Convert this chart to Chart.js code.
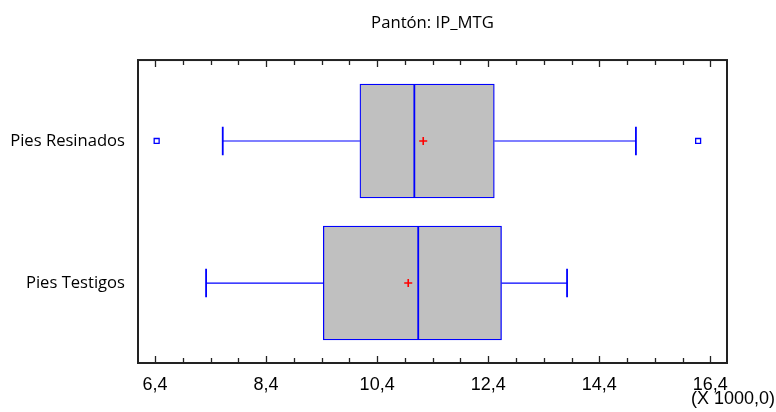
<!DOCTYPE html>
<html>
<head>
<meta charset="utf-8">
<script src="https://cdn.jsdelivr.net/npm/chart.js@4.4.0/dist/chart.umd.min.js"></script>
<style>
    html, body { margin: 0; padding: 0; background: #fff; }
    #wrap { width: 776px; height: 412px; }
</style>
</head>
<body>
<div id="wrap"><canvas id="boxChart"></canvas></div>
<script>
// Box plot data (values in X 1000,0)
const groups = ['Pies Resinados', 'Pies Testigos'];
const groupPos = [2, 1];
const whiskerLow = [7.62, 7.32];
const q1 = [10.09, 9.43];
const median = [11.07, 11.14];
const q3 = [12.51, 12.64];
const whiskerHigh = [15.06, 13.82];
const means = [11.23, 10.96];
const outliers = [
    { x: 6.43, y: 2 },
    { x: 16.18, y: 2 }
];
const xTicks = [6.4, 8.4, 10.4, 12.4, 14.4, 16.4];

const blue = '#0000ff';
const axisFont = '"Liberation Sans", Arial, sans-serif';

// whiskers, caps, medians, inner tick marks and frame
const boxPlotExtras = {
    id: 'boxPlotExtras',
    afterDatasetsDraw(chart) {
        const { ctx, chartArea: a, scales: { x, y } } = chart;
        ctx.save();
        ctx.strokeStyle = blue;
        groups.forEach((g, i) => {
            const cy = y.getPixelForValue(groupPos[i]);
            const capT = y.getPixelForValue(groupPos[i] + 0.1);
            const capB = y.getPixelForValue(groupPos[i] - 0.1);
            const boxT = y.getPixelForValue(groupPos[i] + 0.4);
            const boxB = y.getPixelForValue(groupPos[i] - 0.4);
            ctx.lineWidth = 1.2;
            ctx.beginPath();
            ctx.moveTo(x.getPixelForValue(whiskerLow[i]), cy);
            ctx.lineTo(x.getPixelForValue(q1[i]), cy);
            ctx.moveTo(x.getPixelForValue(q3[i]), cy);
            ctx.lineTo(x.getPixelForValue(whiskerHigh[i]), cy);
            ctx.stroke();
            ctx.lineWidth = 1.8;
            ctx.beginPath();
            ctx.moveTo(x.getPixelForValue(whiskerLow[i]), capT);
            ctx.lineTo(x.getPixelForValue(whiskerLow[i]), capB);
            ctx.moveTo(x.getPixelForValue(whiskerHigh[i]), capT);
            ctx.lineTo(x.getPixelForValue(whiskerHigh[i]), capB);
            ctx.moveTo(x.getPixelForValue(median[i]), boxT);
            ctx.lineTo(x.getPixelForValue(median[i]), boxB);
            ctx.stroke();
        });

        // inward ticks on top and bottom every 0.5
        ctx.strokeStyle = '#222';
        ctx.lineWidth = 1.3;
        ctx.beginPath();
        for (let k = 0; k <= 20; k++) {
            const v = xTicks[0] + k * 0.5;
            const px = Math.round(x.getPixelForValue(v)) + 0.5;
            const len = k % 4 === 0 ? 7 : 5;
            ctx.moveTo(px, a.top);
            ctx.lineTo(px, a.top + len);
            ctx.moveTo(px, a.bottom);
            ctx.lineTo(px, a.bottom - len);
        }
        ctx.stroke();

        ctx.lineWidth = 2;
        ctx.strokeRect(a.left, a.top, a.right - a.left, a.bottom - a.top);

        ctx.fillStyle = '#000';
        ctx.font = '18px ' + axisFont;
        ctx.textAlign = 'right';
        ctx.textBaseline = 'middle';
        ctx.fillText('(X 1000,0)', chart.width - 1, 399);
        ctx.restore();
    }
};

const ctx = document.getElementById('boxChart').getContext('2d');

new Chart(ctx, {
    data: {
        datasets: [
            {
                type: 'bar',
                label: 'Caja',
                data: groups.map((g, i) => ({ x: [q1[i], q3[i]], y: groupPos[i] })),
                backgroundColor: '#c0c0c0',
                borderColor: blue,
                borderWidth: 1.3,
                borderSkipped: false,
                barThickness: 114,
                order: 2
            },
            {
                type: 'scatter',
                label: 'Media',
                data: groups.map((g, i) => ({ x: means[i], y: groupPos[i] })),
                pointStyle: 'cross',
                radius: 4,
                borderColor: '#ff0000',
                borderWidth: 1.6,
                order: 1
            },
            {
                type: 'scatter',
                label: 'Atípicos',
                data: outliers,
                pointStyle: 'rect',
                radius: 3.5,
                backgroundColor: '#fff',
                borderColor: blue,
                borderWidth: 1.3,
                order: 1
            }
        ]
    },
    options: {
        indexAxis: 'y',
        responsive: true,
        maintainAspectRatio: false,
        animation: false,
        layout: { padding: { left: 0, right: 49, top: 0, bottom: 0 } },
        plugins: {
            legend: { display: false },
            tooltip: { enabled: false },
            title: {
                display: true,
                text: 'Pantón: IP_MTG',
                fullSize: false,
                color: '#000',
                font: { family: '"Open Sans", sans-serif', size: 16.7, weight: 'normal', lineHeight: 1.2 },
                padding: { top: 13, bottom: 27 }
            }
        },
        scales: {
            x: {
                type: 'linear',
                offset: false,
                min: 6.094,
                max: 16.70,
                grid: { display: false },
                border: { display: false },
                afterBuildTicks: scale => { scale.ticks = xTicks.map(v => ({ value: v })); },
                afterFit: scale => { scale.height = 49; },
                ticks: {
                    color: '#000',
                    padding: 3,
                    maxRotation: 0,
                    autoSkip: false,
                    font: { family: axisFont, size: 18 },
                    callback: v => v.toFixed(1).replace('.', ',')
                }
            },
            y: {
                type: 'linear',
                offset: false,
                min: 0.437,
                max: 2.57,
                grid: { display: false },
                border: { display: false },
                afterBuildTicks: scale => { scale.ticks = groupPos.map(v => ({ value: v })); },
                afterFit: scale => { scale.width = 138; },
                ticks: {
                    color: '#000',
                    padding: 5,
                    font: { family: '"Open Sans", sans-serif', size: 16.6 },
                    callback: v => groups[groupPos.indexOf(v)]
                }
            }
        }
    },
    plugins: [boxPlotExtras]
});
</script>
</body>
</html>
